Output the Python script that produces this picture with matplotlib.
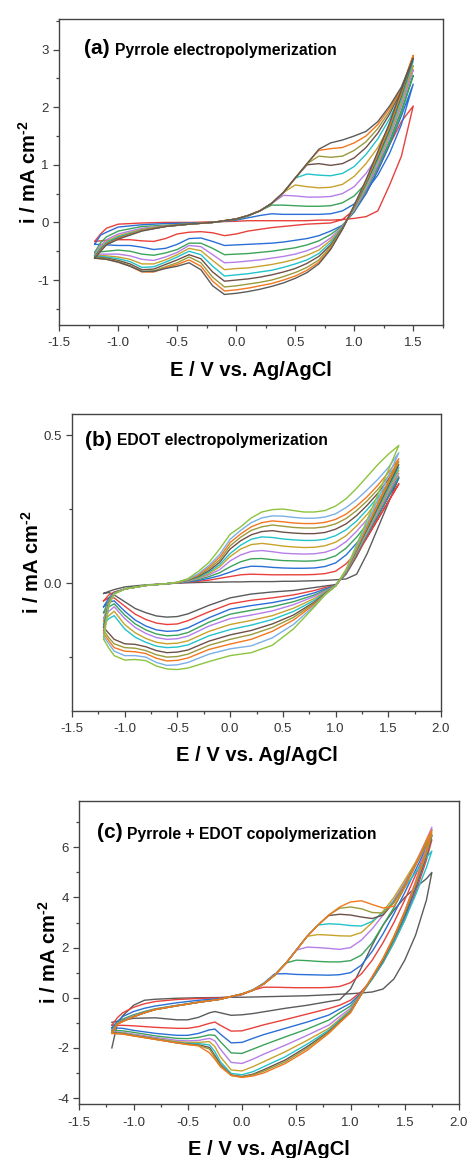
import numpy as np
import matplotlib
matplotlib.use("Agg")
import matplotlib.pyplot as plt
from matplotlib.ticker import MultipleLocator

plt.rcParams["font.family"] = ["Liberation Sans", "DejaVu Sans"]
plt.rcParams["mathtext.fontset"] = "custom"
plt.rcParams["mathtext.rm"] = "Liberation Sans"
plt.rcParams["mathtext.bf"] = "Liberation Sans:bold"
plt.rcParams["mathtext.default"] = "bf"

# colour names used by the cycles
c_gray, c_red, c_blue, c_green = "#5b5b5b", "#e8413c", "#2a6fd6", "#3ba35a"
c_purple, c_gold, c_cyan, c_brown = "#b57ee8", "#c8a22a", "#22c3c9", "#6e5148"
c_olive, c_orange, c_lblue, c_ygreen = "#9a9a3c", "#f2771f", "#7ab0e6", "#8cc43e"

# ---------------- (a) pyrrole ----------------
a_colors = [c_red, c_blue, c_green, c_purple, c_gold, c_cyan, c_brown, c_olive, c_orange, c_gray]
a_E_fwd = [-1.2, -1.15, -1.1, -1.0, -0.8, -0.6, -0.4, -0.2, 0.0, 0.1, 0.2, 0.3,
           0.4, 0.5, 0.6, 0.7, 0.8, 0.9, 1.0, 1.1, 1.2, 1.3, 1.4, 1.5]
a_E_rev = [1.5, 1.4, 1.3, 1.2, 1.1, 1.0, 0.9, 0.8, 0.7, 0.6, 0.5, 0.4, 0.3, 0.2,
           0.1, 0.0, -0.1, -0.2, -0.3, -0.4, -0.5, -0.6, -0.7, -0.8, -0.9, -1.0, -1.1, -1.2]
a_i_fwd = [
    [-0.33, -0.2, -0.1, -0.03, -0.01, 0.0, 0.0, 0.01, 0.02, 0.03, 0.03, 0.03,
     0.03, 0.03, 0.03, 0.04, 0.04, 0.05, 0.07, 0.1, 0.2, 0.65, 1.15, 2.02],
    [-0.38, -0.22, -0.17, -0.08, -0.04, -0.02, -0.01, 0.0, 0.04, 0.08, 0.12, 0.15,
     0.14, 0.14, 0.14, 0.14, 0.15, 0.2, 0.32, 0.55, 0.82, 1.2, 1.7, 2.4],
    [-0.52, -0.35, -0.25, -0.15, -0.07, -0.05, -0.02, 0.0, 0.05, 0.11, 0.2, 0.3,
     0.3, 0.29, 0.28, 0.28, 0.29, 0.34, 0.46, 0.68, 0.98, 1.38, 1.9, 2.55],
    [-0.55, -0.4, -0.3, -0.2, -0.1, -0.06, -0.03, 0.0, 0.06, 0.12, 0.2, 0.33,
     0.47, 0.46, 0.44, 0.44, 0.45, 0.5, 0.62, 0.85, 1.15, 1.55, 2.05, 2.65],
    [-0.57, -0.43, -0.33, -0.23, -0.12, -0.06, -0.03, 0.0, 0.06, 0.12, 0.2, 0.33,
     0.52, 0.65, 0.62, 0.6, 0.61, 0.66, 0.8, 1.02, 1.3, 1.68, 2.15, 2.72],
    [-0.58, -0.45, -0.35, -0.25, -0.13, -0.07, -0.03, 0.0, 0.06, 0.12, 0.2, 0.33,
     0.52, 0.77, 0.84, 0.82, 0.81, 0.85, 0.97, 1.18, 1.45, 1.8, 2.25, 2.8],
    [-0.6, -0.47, -0.37, -0.27, -0.14, -0.07, -0.03, 0.0, 0.06, 0.12, 0.2, 0.33,
     0.52, 0.77, 1.0, 1.02, 0.99, 1.02, 1.12, 1.3, 1.55, 1.88, 2.3, 2.85],
    [-0.61, -0.48, -0.38, -0.28, -0.14, -0.07, -0.03, 0.0, 0.06, 0.12, 0.2, 0.33,
     0.52, 0.77, 1.02, 1.15, 1.13, 1.15, 1.25, 1.4, 1.63, 1.93, 2.32, 2.88],
    [-0.62, -0.49, -0.38, -0.28, -0.14, -0.07, -0.03, 0.0, 0.06, 0.12, 0.2, 0.33,
     0.52, 0.77, 1.02, 1.25, 1.28, 1.3, 1.38, 1.5, 1.7, 1.98, 2.32, 2.9],
    [-0.62, -0.5, -0.39, -0.29, -0.15, -0.07, -0.03, 0.0, 0.06, 0.12, 0.2, 0.33,
     0.52, 0.77, 1.02, 1.27, 1.38, 1.43, 1.5, 1.58, 1.75, 2.02, 2.35, 2.85],
]
a_i_rev = [
    [2.02, 1.75, 1.35, 0.9, 0.5, 0.22, 0.05,
     -0.01, -0.02, -0.03, -0.05, -0.07, -0.09, -0.12, -0.15, -0.2, -0.23, -0.18,
     -0.16, -0.17, -0.2, -0.28, -0.33, -0.32, -0.3, -0.3, -0.31, -0.33],
    [2.4, 1.85, 1.35, 0.9, 0.5, 0.18, -0.05,
     -0.15, -0.23, -0.28, -0.31, -0.34, -0.36, -0.37, -0.38, -0.39, -0.4, -0.33,
     -0.27, -0.28, -0.38, -0.45, -0.47, -0.43, -0.4, -0.4, -0.39, -0.38],
    [2.55, 1.95, 1.42, 0.95, 0.55, 0.2, -0.06,
     -0.21, -0.32, -0.39, -0.44, -0.47, -0.5, -0.52, -0.54, -0.55, -0.56, -0.45,
     -0.36, -0.36, -0.47, -0.53, -0.57, -0.55, -0.5, -0.48, -0.5, -0.52],
    [2.65, 2.02, 1.48, 1.0, 0.58, 0.22, -0.07,
     -0.27, -0.41, -0.49, -0.55, -0.59, -0.62, -0.65, -0.67, -0.69, -0.7, -0.56,
     -0.42, -0.4, -0.52, -0.6, -0.66, -0.64, -0.58, -0.55, -0.55, -0.55],
    [2.72, 2.08, 1.53, 1.05, 0.62, 0.24, -0.08,
     -0.31, -0.48, -0.57, -0.64, -0.69, -0.73, -0.76, -0.79, -0.8, -0.82, -0.66,
     -0.49, -0.45, -0.56, -0.65, -0.72, -0.72, -0.64, -0.6, -0.58, -0.57],
    [2.8, 2.14, 1.58, 1.09, 0.65, 0.26, -0.09,
     -0.35, -0.54, -0.65, -0.72, -0.78, -0.83, -0.86, -0.89, -0.91, -0.93, -0.76,
     -0.56, -0.5, -0.6, -0.69, -0.77, -0.78, -0.68, -0.63, -0.6, -0.58],
    [2.85, 2.2, 1.62, 1.13, 0.68, 0.27, -0.1,
     -0.39, -0.59, -0.71, -0.8, -0.86, -0.91, -0.95, -0.98, -1.0, -1.02, -0.86,
     -0.63, -0.56, -0.65, -0.73, -0.81, -0.82, -0.72, -0.66, -0.62, -0.6],
    [2.88, 2.24, 1.66, 1.17, 0.7, 0.28, -0.11,
     -0.42, -0.65, -0.78, -0.87, -0.94, -1.0, -1.04, -1.07, -1.1, -1.12, -0.95,
     -0.7, -0.6, -0.7, -0.77, -0.84, -0.85, -0.75, -0.68, -0.63, -0.61],
    [2.9, 2.28, 1.7, 1.2, 0.72, 0.29, -0.12,
     -0.45, -0.69, -0.83, -0.93, -1.0, -1.06, -1.1, -1.14, -1.17, -1.19, -1.02,
     -0.76, -0.65, -0.73, -0.79, -0.86, -0.86, -0.76, -0.69, -0.64, -0.62],
    [2.85, 2.3, 1.73, 1.23, 0.74, 0.3, -0.12,
     -0.47, -0.72, -0.87, -0.97, -1.05, -1.11, -1.16, -1.2, -1.23, -1.25, -1.1,
     -0.82, -0.7, -0.76, -0.8, -0.85, -0.85, -0.76, -0.69, -0.64, -0.62],
]

# ---------------- (b) EDOT ----------------
b_colors = [c_gray, c_red, c_blue, c_green, c_purple, c_gold, c_cyan, c_brown,
            c_olive, c_orange, c_lblue, c_ygreen]
b_E_fwd = [-1.2, -1.15, -1.1, -1.0, -0.8, -0.6, -0.5, -0.4, -0.3, -0.2, -0.1, 0.0,
           0.1, 0.2, 0.3, 0.4, 0.5, 0.6, 0.7, 0.8, 0.9, 1.0, 1.1, 1.2, 1.3, 1.4, 1.5, 1.6]
b_E_rev = [1.6, 1.5, 1.4, 1.3, 1.2, 1.1, 1.0, 0.9, 0.8, 0.6, 0.4, 0.2, 0.0, -0.2,
           -0.4, -0.5, -0.6, -0.7, -0.8, -0.9, -1.0, -1.1, -1.15, -1.2]
b_i_fwd = [
    [-0.035, -0.028, -0.022, -0.013, -0.006, -0.002, 0.0, 0.001, 0.002, 0.003, 0.003,
     0.004, 0.004, 0.005, 0.005, 0.005, 0.006, 0.006, 0.007, 0.008, 0.009,
     0.011, 0.014, 0.03, 0.1, 0.185, 0.27, 0.355],
    [-0.06, -0.04, -0.03, -0.02, -0.008, -0.002, 0.0, 0.003, 0.006, 0.01, 0.016,
     0.022, 0.028, 0.03, 0.029, 0.028, 0.028, 0.028, 0.028, 0.029, 0.032,
     0.04, 0.065, 0.105, 0.155, 0.215, 0.275, 0.335],
    [-0.08, -0.05, -0.032, -0.02, -0.008, -0.002, 0.0, 0.004, 0.009, 0.016, 0.025,
     0.037, 0.05, 0.057, 0.056, 0.053, 0.051, 0.05, 0.05, 0.051, 0.056,
     0.068, 0.095, 0.135, 0.185, 0.24, 0.3, 0.355],
    [-0.1, -0.055, -0.033, -0.02, -0.008, -0.002, 0.001, 0.006, 0.012, 0.022, 0.035,
     0.055, 0.072, 0.082, 0.083, 0.079, 0.076, 0.075, 0.074, 0.075, 0.08,
     0.092, 0.118, 0.155, 0.2, 0.25, 0.305, 0.36],
    [-0.12, -0.06, -0.034, -0.02, -0.008, -0.002, 0.001, 0.007, 0.015, 0.028, 0.045,
     0.075, 0.095, 0.107, 0.11, 0.106, 0.101, 0.099, 0.098, 0.099, 0.104,
     0.116, 0.14, 0.175, 0.215, 0.265, 0.315, 0.37],
    [-0.13, -0.062, -0.034, -0.02, -0.008, -0.002, 0.001, 0.008, 0.017, 0.032, 0.055,
     0.09, 0.115, 0.13, 0.134, 0.13, 0.125, 0.122, 0.12, 0.121, 0.126,
     0.138, 0.16, 0.193, 0.232, 0.278, 0.327, 0.38],
    [-0.14, -0.064, -0.035, -0.02, -0.008, -0.002, 0.002, 0.009, 0.02, 0.037, 0.062,
     0.1, 0.128, 0.148, 0.156, 0.154, 0.149, 0.146, 0.144, 0.144, 0.148,
     0.16, 0.18, 0.21, 0.248, 0.29, 0.338, 0.39],
    [-0.15, -0.066, -0.035, -0.02, -0.008, -0.002, 0.002, 0.01, 0.023, 0.042, 0.07,
     0.115, 0.143, 0.163, 0.174, 0.177, 0.172, 0.169, 0.167, 0.167, 0.171,
     0.182, 0.2, 0.228, 0.263, 0.303, 0.35, 0.4],
    [-0.16, -0.068, -0.035, -0.02, -0.008, -0.002, 0.002, 0.011, 0.026, 0.048, 0.078,
     0.126, 0.155, 0.178, 0.19, 0.196, 0.192, 0.188, 0.186, 0.186, 0.19,
     0.2, 0.218, 0.245, 0.278, 0.316, 0.36, 0.41],
    [-0.17, -0.07, -0.036, -0.02, -0.008, -0.002, 0.002, 0.012, 0.029, 0.054, 0.087,
     0.137, 0.166, 0.19, 0.204, 0.21, 0.207, 0.203, 0.201, 0.201, 0.205,
     0.215, 0.233, 0.26, 0.292, 0.33, 0.373, 0.42],
    [-0.18, -0.072, -0.036, -0.02, -0.008, -0.002, 0.003, 0.013, 0.032, 0.06, 0.096,
     0.148, 0.178, 0.204, 0.22, 0.227, 0.226, 0.222, 0.219, 0.219, 0.223,
     0.234, 0.255, 0.282, 0.315, 0.35, 0.39, 0.44],
    [-0.19, -0.075, -0.037, -0.02, -0.008, -0.002, 0.003, 0.015, 0.04, 0.07, 0.115,
     0.165, 0.19, 0.22, 0.24, 0.248, 0.25, 0.245, 0.24, 0.24, 0.245,
     0.26, 0.285, 0.32, 0.36, 0.4, 0.435, 0.465],
]
b_i_rev = [
    [0.355, 0.29, 0.225, 0.16, 0.09, 0.03, -0.005,
     -0.01, -0.015, -0.025, -0.03, -0.037, -0.05, -0.075, -0.104, -0.113, -0.115,
     -0.111, -0.1, -0.086, -0.063, -0.04, -0.032, -0.035],
    [0.335, 0.275, 0.215, 0.155, 0.094, 0.034, -0.008,
     -0.015, -0.025, -0.04, -0.05, -0.058, -0.07, -0.097, -0.127, -0.138, -0.14,
     -0.135, -0.123, -0.105, -0.078, -0.05, -0.05, -0.06],
    [0.355, 0.29, 0.227, 0.163, 0.1, 0.036, -0.008,
     -0.02, -0.033, -0.052, -0.066, -0.076, -0.088, -0.117, -0.151, -0.161, -0.163,
     -0.158, -0.145, -0.125, -0.095, -0.06, -0.065, -0.08],
    [0.36, 0.295, 0.23, 0.166, 0.1, 0.036, -0.008,
     -0.024, -0.04, -0.063, -0.08, -0.092, -0.105, -0.132, -0.167, -0.176, -0.178,
     -0.172, -0.158, -0.138, -0.108, -0.07, -0.08, -0.1],
    [0.37, 0.303, 0.237, 0.17, 0.104, 0.037, -0.009,
     -0.027, -0.045, -0.073, -0.094, -0.108, -0.12, -0.145, -0.179, -0.188, -0.19,
     -0.184, -0.17, -0.15, -0.12, -0.08, -0.095, -0.12],
    [0.38, 0.312, 0.243, 0.175, 0.106, 0.038, -0.009,
     -0.03, -0.052, -0.085, -0.11, -0.126, -0.14, -0.163, -0.195, -0.203, -0.205,
     -0.2, -0.187, -0.168, -0.14, -0.095, -0.11, -0.13],
    [0.39, 0.32, 0.25, 0.18, 0.11, 0.039, -0.009,
     -0.033, -0.058, -0.096, -0.123, -0.142, -0.157, -0.178, -0.209, -0.216, -0.218,
     -0.213, -0.2, -0.183, -0.155, -0.11, -0.12, -0.14],
    [0.4, 0.328, 0.256, 0.184, 0.112, 0.04, -0.01,
     -0.035, -0.064, -0.108, -0.138, -0.16, -0.175, -0.196, -0.226, -0.233, -0.235,
     -0.228, -0.215, -0.207, -0.205, -0.19, -0.17, -0.15],
    [0.41, 0.336, 0.262, 0.189, 0.115, 0.041, -0.01,
     -0.037, -0.068, -0.116, -0.15, -0.174, -0.19, -0.21, -0.24, -0.248, -0.25,
     -0.242, -0.228, -0.22, -0.218, -0.205, -0.185, -0.16],
    [0.42, 0.344, 0.269, 0.193, 0.118, 0.042, -0.01,
     -0.038, -0.072, -0.125, -0.163, -0.19, -0.206, -0.224, -0.253, -0.261, -0.263,
     -0.254, -0.238, -0.232, -0.23, -0.218, -0.195, -0.17],
    [0.44, 0.361, 0.282, 0.202, 0.123, 0.044, -0.01,
     -0.039, -0.076, -0.14, -0.185, -0.212, -0.222, -0.24, -0.268, -0.276, -0.278,
     -0.268, -0.25, -0.245, -0.245, -0.23, -0.205, -0.18],
    [0.465, 0.381, 0.298, 0.214, 0.13, 0.047, -0.01,
     -0.04, -0.08, -0.155, -0.21, -0.235, -0.245, -0.265, -0.287, -0.292, -0.29,
     -0.28, -0.262, -0.258, -0.26, -0.245, -0.22, -0.19],
]

# ---------------- (c) pyrrole + EDOT ----------------
c_colors = [c_gray, c_red, c_blue, c_green, c_purple, c_gold, c_cyan, c_brown, c_olive, c_orange]
c_E_fwd = [-1.2, -1.15, -1.1, -1.0, -0.9, -0.8, -0.6, -0.4, -0.2, -0.1, 0.0, 0.1,
           0.2, 0.3, 0.4, 0.5, 0.6, 0.7, 0.8, 0.9, 1.0, 1.1, 1.2, 1.3, 1.4, 1.5,
           1.6, 1.7, 1.75]
c_E_rev = [1.75, 1.7, 1.6, 1.5, 1.4, 1.3, 1.2, 1.1, 1.0, 0.9, 0.8, 0.6, 0.4, 0.2,
           0.1, 0.0, -0.1, -0.2, -0.25, -0.3, -0.4, -0.5, -0.6, -0.8, -1.0, -1.1, -1.2]
c_i_fwd = [
    [-2.0, -1.05, -0.72, -0.3, -0.1, -0.06, -0.02, 0.0, 0.01, 0.02,
     0.02, 0.03, 0.04, 0.05, 0.06, 0.07, 0.08, 0.1, 0.12, 0.14,
     0.16, 0.19, 0.23, 0.35, 0.75, 1.5, 2.5, 3.9, 5.0],
    [-1.1, -0.8, -0.6, -0.38, -0.24, -0.15, -0.07, -0.03, 0.0, 0.04,
     0.12, 0.3, 0.42, 0.42, 0.41, 0.4, 0.4, 0.4, 0.41, 0.45,
     0.6, 0.95, 1.5, 2.2, 3.0, 3.9, 4.9, 5.9, 6.3],
    [-1.2, -0.95, -0.75, -0.55, -0.42, -0.33, -0.2, -0.1, -0.03, 0.03,
     0.14, 0.32, 0.58, 0.95, 0.96, 0.93, 0.92, 0.91, 0.9, 0.92,
     1.0, 1.3, 1.85, 2.55, 3.35, 4.2, 5.1, 6.0, 6.45],
    [-1.3, -1.0, -0.85, -0.68, -0.55, -0.44, -0.3, -0.17, -0.06, 0.05,
     0.15, 0.3, 0.55, 0.9, 1.38, 1.5, 1.48, 1.45, 1.43, 1.43,
     1.48, 1.7, 2.2, 2.9, 3.6, 4.4, 5.3, 6.2, 6.7],
    [-1.35, -1.02, -0.9, -0.72, -0.58, -0.46, -0.31, -0.18, -0.06, 0.05,
     0.15, 0.3, 0.55, 0.9, 1.35, 1.9, 2.02, 2.0, 1.97, 1.93,
     2.0, 2.3, 2.75, 3.3, 3.9, 4.6, 5.4, 6.3, 6.8],
    [-1.38, -1.03, -0.92, -0.74, -0.6, -0.47, -0.32, -0.18, -0.06, 0.05,
     0.15, 0.3, 0.55, 0.9, 1.35, 1.9, 2.45, 2.52, 2.5, 2.47,
     2.46, 2.6, 3.0, 3.45, 4.0, 4.7, 5.4, 6.2, 6.6],
    [-1.4, -1.04, -0.93, -0.75, -0.6, -0.47, -0.32, -0.18, -0.06, 0.05,
     0.15, 0.3, 0.55, 0.9, 1.35, 1.9, 2.45, 2.9, 2.95, 2.93,
     2.88, 2.86, 3.05, 3.4, 3.85, 4.4, 5.0, 5.6, 5.85],
    [-1.4, -1.05, -0.94, -0.76, -0.6, -0.47, -0.32, -0.18, -0.06, 0.05,
     0.15, 0.3, 0.55, 0.9, 1.35, 1.9, 2.45, 2.9, 3.28, 3.33,
     3.3, 3.22, 3.16, 3.3, 3.8, 4.5, 5.3, 6.1, 6.5],
    [-1.42, -1.05, -0.95, -0.76, -0.6, -0.47, -0.32, -0.18, -0.06, 0.05,
     0.15, 0.3, 0.55, 0.9, 1.35, 1.9, 2.45, 2.9, 3.3, 3.57,
     3.62, 3.55, 3.4, 3.38, 3.8, 4.5, 5.3, 6.1, 6.5],
    [-1.42, -1.06, -0.95, -0.76, -0.6, -0.47, -0.32, -0.18, -0.06, 0.05,
     0.15, 0.3, 0.55, 0.9, 1.35, 1.9, 2.45, 2.9, 3.3, 3.62,
     3.82, 3.87, 3.72, 3.58, 3.65, 4.4, 5.3, 6.3, 6.7],
]
c_i_rev = [
    [5.0, 4.75, 4.4, 4.0, 3.5, 2.9, 2.1, 1.2, 0.35,
     -0.08, -0.15, -0.3, -0.42, -0.56, -0.63, -0.68, -0.7, -0.6, -0.55,
     -0.6, -0.78, -0.88, -0.88, -0.8, -0.82, -0.9, -0.98],
    [6.3, 5.5, 4.2, 3.1, 2.2, 1.4, 0.75, 0.25, -0.1,
     -0.3, -0.43, -0.65, -0.87, -1.08, -1.2, -1.32, -1.33, -1.1, -0.97,
     -1.02, -1.15, -1.22, -1.22, -1.18, -1.12, -1.1, -1.1],
    [6.45, 5.65, 4.35, 3.2, 2.25, 1.42, 0.75, 0.2, -0.22,
     -0.45, -0.69, -0.97, -1.22, -1.47, -1.62, -1.78, -1.8, -1.45, -1.25,
     -1.28, -1.42, -1.5, -1.5, -1.42, -1.3, -1.22, -1.2],
    [6.7, 5.9, 4.55, 3.35, 2.35, 1.48, 0.78, 0.18, -0.33,
     -0.6, -0.89, -1.25, -1.56, -1.88, -2.05, -2.22, -2.2, -1.75, -1.5,
     -1.48, -1.58, -1.63, -1.62, -1.52, -1.38, -1.32, -1.3],
    [6.8, 6.0, 4.65, 3.45, 2.42, 1.52, 0.8, 0.16, -0.42,
     -0.75, -1.09, -1.5, -1.89, -2.25, -2.45, -2.62, -2.58, -2.05, -1.72,
     -1.62, -1.7, -1.72, -1.7, -1.58, -1.45, -1.38, -1.35],
    [6.6, 5.8, 4.5, 3.35, 2.35, 1.5, 0.78, 0.15, -0.48,
     -0.85, -1.22, -1.7, -2.15, -2.55, -2.75, -2.92, -2.88, -2.35, -1.95,
     -1.75, -1.78, -1.78, -1.75, -1.62, -1.48, -1.4, -1.38],
    [5.85, 5.2, 4.1, 3.1, 2.2, 1.42, 0.75, 0.12, -0.52,
     -0.9, -1.29, -1.85, -2.35, -2.75, -2.95, -3.07, -3.02, -2.55, -2.15,
     -1.88, -1.83, -1.82, -1.78, -1.64, -1.5, -1.42, -1.4],
    [6.5, 5.7, 4.45, 3.32, 2.36, 1.5, 0.8, 0.14, -0.56,
     -0.95, -1.35, -1.95, -2.48, -2.87, -3.05, -3.14, -3.08, -2.65, -2.3,
     -1.98, -1.88, -1.85, -1.8, -1.65, -1.51, -1.43, -1.4],
    [6.5, 5.75, 4.5, 3.38, 2.4, 1.55, 0.82, 0.14, -0.58,
     -0.98, -1.38, -2.02, -2.55, -2.93, -3.08, -3.16, -3.1, -2.7, -2.38,
     -2.05, -1.9, -1.86, -1.8, -1.66, -1.52, -1.44, -1.42],
    [6.7, 5.9, 4.6, 3.45, 2.45, 1.58, 0.85, 0.15, -0.6,
     -1.0, -1.42, -2.1, -2.62, -3.0, -3.12, -3.18, -3.1, -2.75, -2.45,
     -2.2, -1.92, -1.87, -1.8, -1.66, -1.52, -1.45, -1.42],
]

W, H = 469, 1158
fig = plt.figure(figsize=(W / 100, H / 100), dpi=100)


def px_axes(left, top, right, bottom):
    return fig.add_axes([left / W, 1 - bottom / H, (right - left) / W, (bottom - top) / H])


def style(ax, xlim, ylim, xmaj, ymaj, yfmt, ypad):
    ax.set_xlim(*xlim)
    ax.set_ylim(*ylim)
    ax.xaxis.set_major_locator(MultipleLocator(xmaj))
    ax.xaxis.set_minor_locator(MultipleLocator(xmaj / 2))
    ax.yaxis.set_major_locator(MultipleLocator(ymaj))
    ax.yaxis.set_minor_locator(MultipleLocator(ymaj / 2))
    ax.xaxis.set_major_formatter(plt.FuncFormatter(lambda v, p: f"{v:.1f}"))
    ax.yaxis.set_major_formatter(plt.FuncFormatter(yfmt))
    ax.tick_params(which="both", direction="out", colors="#444444", labelcolor="#333333",
                   labelsize=9.5, width=0.9)
    ax.tick_params(which="major", length=4)
    ax.tick_params(axis="x", which="major", pad=5)
    ax.tick_params(which="minor", length=2.5)
    for s in ax.spines.values():
        s.set_color("#444444")
        s.set_linewidth(1.0)
    ax.set_xlabel("E / V vs. Ag/AgCl", fontsize=14.5, fontweight="bold", labelpad=8)
    ax.set_ylabel("i / mA cm$^{\u20102}$", fontsize=14.5, fontweight="bold", labelpad=ypad)


def draw(ax, E_f, E_r, fwd, rev, colors):
    for f, r, col in zip(fwd, rev, colors):
        ax.plot(E_f + E_r, f + r, color=col, lw=1.0)


ax1 = px_axes(59.3, 19, 442.7, 325)
draw(ax1, a_E_fwd, a_E_rev, a_i_fwd, a_i_rev, a_colors)
style(ax1, (-1.5, 1.75), (-1.78, 3.53), 0.5, 1, lambda v, p: f"{v:.0f}", -2)

ax2 = px_axes(72, 414, 441, 710.7)
draw(ax2, b_E_fwd, b_E_rev, b_i_fwd, b_i_rev, b_colors)
style(ax2, (-1.5, 2.0), (-0.431, 0.571), 0.5, 0.5, lambda v, p: f"{v:.1f}", 0)

ax3 = px_axes(79.3, 800.7, 459, 1104.3)
draw(ax3, c_E_fwd, c_E_rev, c_i_fwd, c_i_rev, c_colors)
style(ax3, (-1.5, 2.0), (-4.25, 7.86), 0.5, 2, lambda v, p: f"{v:.0f}", -2)

# panel titles
titles = [("(a)", "Pyrrole electropolymerization", 84, 115, 49),
          ("(b)", "EDOT electropolymerization", 85, 117, 440),
          ("(c)", "Pyrrole + EDOT copolymerization", 97, 127, 833)]
for tag, txt, xt, xs, y in titles:
    fig.text(xt / W, 1 - y / H, tag, fontsize=15, fontweight="bold", va="center", ha="left")
    fig.text(xs / W, 1 - (y + 1) / H, txt, fontsize=11.3, fontweight="bold", va="center", ha="left")

fig.savefig("out.png", dpi=100)
plt.close(fig)
